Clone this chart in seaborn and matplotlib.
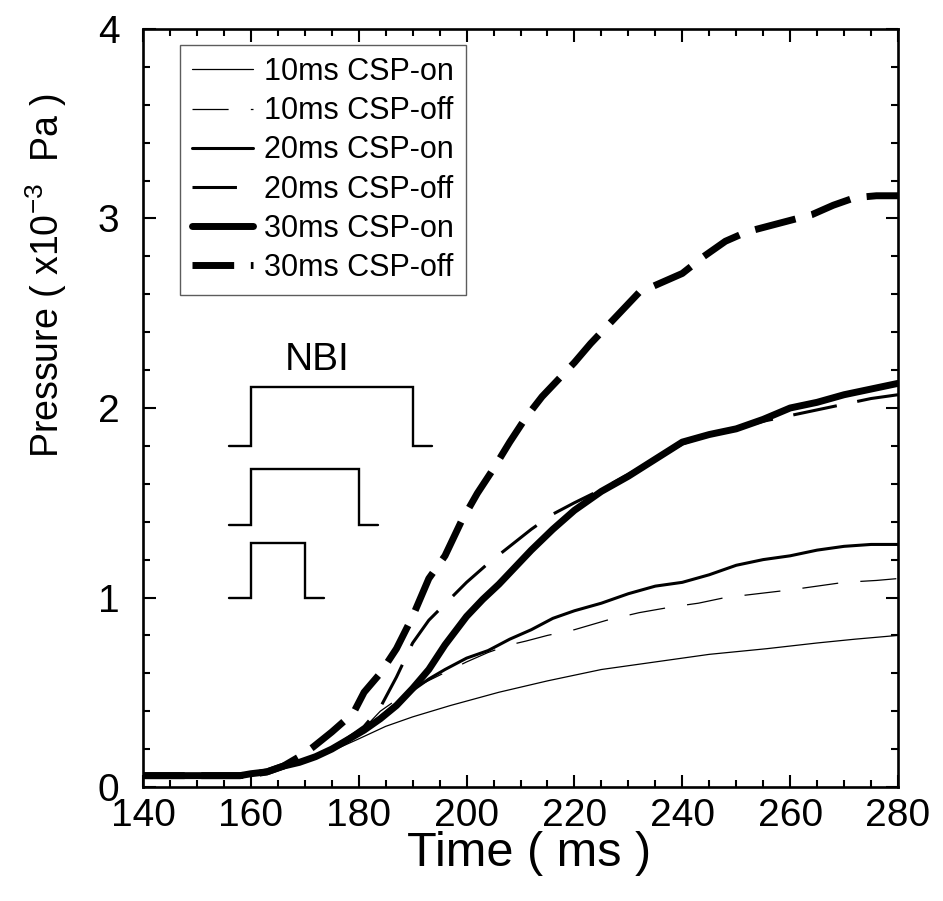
import numpy as np
import pandas as pd
import matplotlib
matplotlib.use("Agg")
import matplotlib.pyplot as plt
import seaborn as sns
from matplotlib.ticker import MultipleLocator

# ---------------- data ----------------
t_10on = [140, 150, 158, 160, 163, 166, 170, 175, 179.7, 185, 190, 197, 206, 215, 225, 235, 245, 255.7, 265, 272, 280]
p_10on = [0.06, 0.06, 0.06, 0.065, 0.08, 0.10, 0.13, 0.19, 0.25, 0.32, 0.37, 0.43, 0.50, 0.56, 0.62, 0.66, 0.70, 0.73, 0.76, 0.78, 0.80]

t_10off = [140, 150, 158, 160, 163, 166, 170, 175, 181, 184, 187, 190, 195, 200, 204, 208, 211, 215, 220, 226, 232, 238, 243, 248, 254, 260, 265, 270, 276, 280]
p_10off = [0.06, 0.06, 0.06, 0.065, 0.08, 0.10, 0.13, 0.20, 0.31, 0.40, 0.46, 0.52, 0.59, 0.66, 0.71, 0.75, 0.77, 0.80, 0.83, 0.88, 0.92, 0.95, 0.97, 1.00, 1.02, 1.04, 1.06, 1.08, 1.09, 1.10]

t_20on = [140, 150, 158, 160, 163, 166, 169, 172, 175, 178, 181, 184, 187, 190, 193, 196, 200, 204, 208, 212, 216, 220, 225, 230, 235, 240, 245, 250, 255, 260, 265, 270, 275, 280]
p_20on = [0.06, 0.06, 0.06, 0.065, 0.08, 0.10, 0.13, 0.16, 0.20, 0.25, 0.30, 0.37, 0.44, 0.51, 0.57, 0.62, 0.68, 0.72, 0.78, 0.83, 0.89, 0.93, 0.97, 1.02, 1.06, 1.08, 1.12, 1.17, 1.20, 1.22, 1.25, 1.27, 1.28, 1.28]

t_20off = [140, 150, 158, 160, 163, 166, 169, 172, 175, 178, 181, 184, 187, 190, 193, 196.5, 200, 204, 208, 212, 216, 220, 225, 230, 235, 240, 245, 250, 255, 260, 265, 270, 275, 280]
p_20off = [0.06, 0.06, 0.06, 0.065, 0.08, 0.11, 0.13, 0.16, 0.20, 0.26, 0.32, 0.42, 0.58, 0.76, 0.88, 0.98, 1.08, 1.18, 1.27, 1.36, 1.44, 1.50, 1.57, 1.65, 1.73, 1.81, 1.86, 1.89, 1.93, 1.96, 1.99, 2.02, 2.05, 2.07]

t_30on = [140, 150, 158, 160, 163, 166, 169, 172, 175, 178, 181, 184, 187, 190, 193, 196, 200, 203, 206, 209, 212, 216, 220, 225, 230, 235, 240, 245, 250, 255, 260, 265, 270, 275, 280]
p_30on = [0.06, 0.06, 0.06, 0.07, 0.08, 0.11, 0.13, 0.16, 0.20, 0.25, 0.30, 0.36, 0.43, 0.52, 0.62, 0.75, 0.90, 0.99, 1.07, 1.16, 1.25, 1.36, 1.46, 1.56, 1.64, 1.73, 1.82, 1.86, 1.89, 1.94, 2.00, 2.03, 2.07, 2.10, 2.13]

t_30off = [140, 150, 158, 160, 163, 166, 169, 171.5, 175, 179, 181, 184, 187, 190, 193, 196, 199, 202, 205, 208, 211, 214, 217, 220, 223, 226, 229, 232, 236, 240, 244, 248, 252, 256, 260, 264, 268, 272, 276, 280]
p_30off = [0.06, 0.06, 0.06, 0.065, 0.08, 0.11, 0.16, 0.21, 0.29, 0.39, 0.50, 0.60, 0.73, 0.90, 1.10, 1.22, 1.40, 1.55, 1.68, 1.82, 1.95, 2.06, 2.15, 2.24, 2.34, 2.43, 2.52, 2.61, 2.66, 2.71, 2.80, 2.88, 2.93, 2.96, 2.99, 3.02, 3.07, 3.11, 3.12, 3.12]

labels = ["10ms CSP-on", "10ms CSP-off", "20ms CSP-on", "20ms CSP-off", "30ms CSP-on", "30ms CSP-off"]

# NBI pulse sketch (start, end, base level, height)
pulse_start = [160, 160, 160]
pulse_end = [190, 180, 170]
pulse_base = [1.80, 1.38, 1.00]
pulse_height = [0.31, 0.30, 0.29]

# ---------------- style ----------------
sns.set_style("ticks")
plt.rcParams["font.family"] = ["Liberation Sans", "DejaVu Sans"]
plt.rcParams["lines.scale_dashes"] = False
plt.rcParams["mathtext.default"] = "regular"
for k in ["text.color", "axes.labelcolor", "xtick.color", "ytick.color", "axes.edgecolor"]:
    plt.rcParams[k] = "black"

fig = plt.figure(figsize=(9.43, 9.01), dpi=100)
ax = fig.add_axes([143 / 943, 1 - 787 / 901, 755 / 943, 758 / 901])

series = [
    (t_10on, p_10on, 0.9, "-"),
    (t_10off, p_10off, 0.9, (0, (26, 16))),
    (t_20on, p_20on, 2.2, "-"),
    (t_20off, p_20off, 2.2, (0, (32, 15))),
    (t_30on, p_30on, 5.0, "-"),
    (t_30off, p_30off, 5.0, (0, (30, 12))),
]

handles = []
for (tx, py, lw, ls), lab in zip(series, labels):
    df = pd.DataFrame({"t": tx, "p": py})
    sns.lineplot(data=df, x="t", y="p", ax=ax, color="black", linewidth=lw,
                 linestyle=ls, estimator=None, sort=False, legend=False)
    handles.append(ax.lines[-1])

for s, e, b, h in zip(pulse_start, pulse_end, pulse_base, pulse_height):
    px = [s - 4, s, s, e, e, e + 3.6]
    py = [b, b, b + h, b + h, b, b]
    ax.plot(px, py, color="black", lw=1.7, solid_joinstyle="miter")

ax.text(172.3, 2.2, "NBI", fontsize=28, ha="center", va="baseline")

ax.set_xlim(140, 280)
ax.set_ylim(0, 4)
ax.xaxis.set_major_locator(MultipleLocator(20))
ax.xaxis.set_minor_locator(MultipleLocator(5))
ax.yaxis.set_major_locator(MultipleLocator(1))
ax.yaxis.set_minor_locator(MultipleLocator(0.2))
ax.tick_params(which="both", direction="in", top=True, right=True, width=1.5, color="black",
               labelsize=28, labelcolor="black")
ax.tick_params(which="major", length=9)
ax.tick_params(which="minor", length=5)
ax.tick_params(axis="x", which="major", pad=8)
ax.tick_params(axis="y", which="major", pad=17)
for sp in ax.spines.values():
    sp.set_linewidth(1.9)
    sp.set_color("black")

ax.set_xlabel("Time ( ms )", fontsize=35)
ax.xaxis.set_label_coords(0.511, -0.058)
ax.set_ylabel(r"Pressure ( x10$^{-3}$  Pa )", fontsize=27)
ax.yaxis.set_label_coords(-0.098, 0.675)

leg = ax.legend(handles, labels, loc="upper left", bbox_to_anchor=(0.049, 0.979),
                borderaxespad=0, fontsize=22, handlelength=2.0, handletextpad=0.35,
                labelspacing=0.3, borderpad=0.4, frameon=True, fancybox=False)
leg.get_frame().set_edgecolor("#333333")
leg.get_frame().set_linewidth(1.0)
for txt in leg.get_texts():
    txt.set_color("black")

fig.savefig("out.png", dpi=100)
